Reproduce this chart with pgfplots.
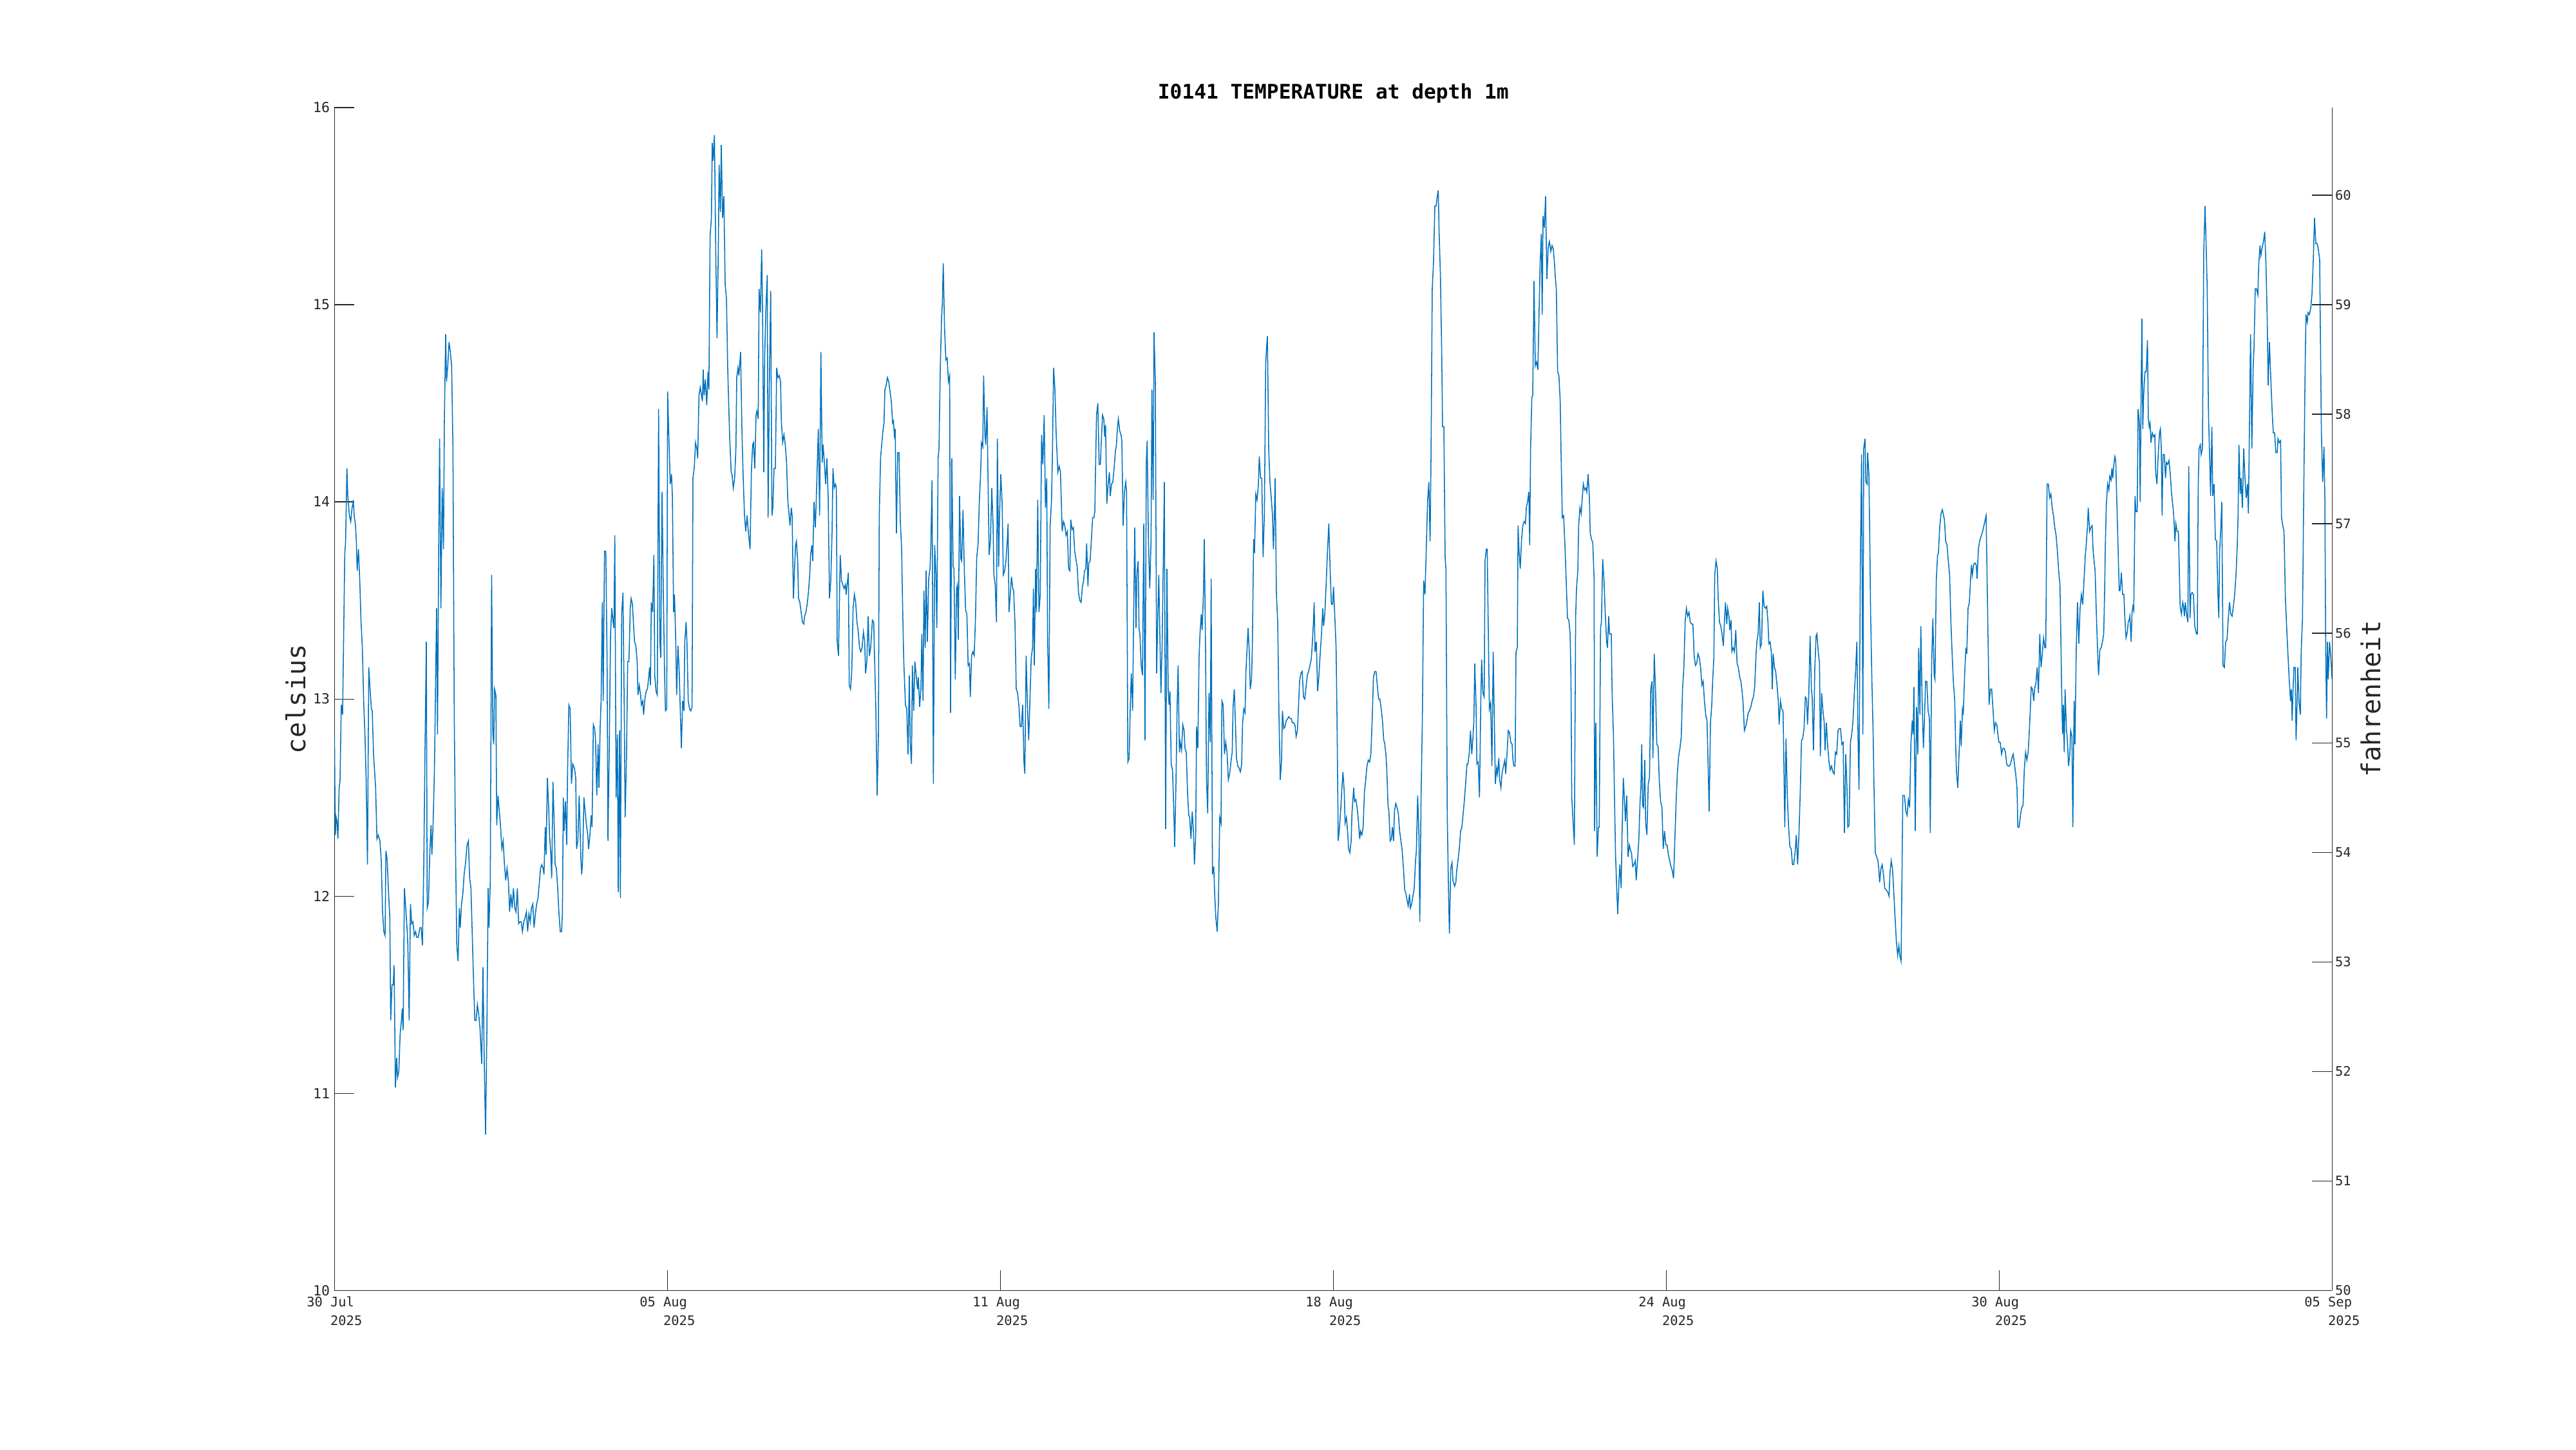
\documentclass[border=0pt]{standalone}
\usepackage{fontspec}
\setmainfont{DejaVu Sans Mono}
\usepackage{pgfplots}
\pgfplotsset{compat=1.18}
\definecolor{mblue}{rgb}{0,0.447,0.741}
\definecolor{axgray}{rgb}{0.15,0.15,0.15}
\begin{document}
\begin{tikzpicture}[x=1pt,y=1pt]
\path[use as bounding box] (0,0) rectangle (1000,562.5);
\begin{axis}[
  at={(129.825pt,61.675pt)}, anchor=south west,
  width=775.5pt, height=459.1pt, scale only axis,
  xmin=0, xmax=37, ymin=10, ymax=16,
  axis lines*=left,
  axis line style={axgray, line width=0.4pt},
  tick align=inside, major tick length=7.75pt,
  tick style={axgray, line width=0.3pt},
  xtick={0,6.16667,12.33333,18.5,24.66667,30.83333,37},
  xticklabels={{30 Jul\\\hphantom{30 }2025},{05 Aug\\\hphantom{05 }2025},{11 Aug\\\hphantom{11 }2025},{18 Aug\\\hphantom{18 }2025},{24 Aug\\\hphantom{24 }2025},{30 Aug\\\hphantom{30 }2025},{05 Sep\\\hphantom{05 }2025}},
  xticklabel style={align=left, anchor=north, inner sep=0pt, yshift=-2.3pt, text=axgray, font=\fontsize{5.1}{7.25}\selectfont},
  ytick={10,11,12,13,14,15,16},
  yticklabel style={anchor=east, inner sep=0pt, xshift=-1.6pt, text=axgray, font=\fontsize{5.4}{6.5}\selectfont},
  /pgf/number format/assume math mode=true,
  ylabel={celsius},
  every axis y label/.style={at={(rel axis cs:-0.0193,0.5)}, anchor=center, rotate=90, text=axgray, font=\fontsize{10.1}{12}\selectfont},
  title={I0141 TEMPERATURE at depth 1m},
  every axis title/.style={at={(rel axis cs:0.5,1)}, anchor=base, yshift=3.45pt, inner sep=0pt, font=\bfseries\fontsize{7.8}{9}\selectfont},
]
\addplot[mblue, line width=0.38pt] coordinates {
(0,12.82)(0.016,12.31)(0.032,12.40)(0.048,12.38)(0.064,12.29)(0.087,12.55)(0.103,12.58)(0.127,12.97)(0.151,12.92)(0.191,13.73)(0.207,13.80)(0.231,14.17)(0.247,14.03)(0.278,13.93)(0.302,13.90)(0.326,13.97)(0.350,14.00)(0.366,13.93)(0.390,13.88)(0.406,13.80)(0.421,13.65)(0.445,13.76)(0.469,13.60)(0.493,13.39)(0.517,13.26)(0.541,12.99)(0.565,12.82)(0.588,12.58)(0.612,12.16)(0.636,13.16)(0.660,13.05)(0.684,12.95)(0.700,12.94)(0.724,12.72)(0.763,12.55)(0.787,12.29)(0.811,12.31)(0.843,12.28)(0.867,12.18)(0.891,11.92)(0.915,11.82)(0.938,11.80)(0.954,12.23)(0.978,12.18)(1.002,12.02)(1.026,11.89)(1.042,11.37)(1.066,11.55)(1.089,11.55)(1.105,11.65)(1.129,11.03)(1.153,11.18)(1.169,11.08)(1.193,11.11)(1.217,11.30)(1.241,11.37)(1.256,11.43)(1.272,11.32)(1.296,12.04)(1.320,11.94)(1.344,11.84)(1.360,11.75)(1.384,11.37)(1.408,11.96)(1.431,11.86)(1.455,11.87)(1.479,11.80)(1.503,11.82)(1.527,11.79)(1.551,11.79)(1.583,11.84)(1.606,11.84)(1.630,11.75)(1.654,12.14)(1.678,12.75)(1.702,13.29)(1.718,11.94)(1.742,11.97)(1.765,12.21)(1.789,12.36)(1.805,12.21)(1.829,12.38)(1.853,12.65)(1.877,13.16)(1.893,13.46)(1.909,12.82)(1.932,13.80)(1.948,14.32)(1.972,13.46)(1.996,14.07)(2.020,13.76)(2.036,14.41)(2.060,14.85)(2.076,14.61)(2.099,14.69)(2.123,14.81)(2.147,14.76)(2.171,14.69)(2.195,14.27)(2.219,12.92)(2.243,12.24)(2.266,11.75)(2.290,11.67)(2.314,11.94)(2.330,11.84)(2.354,11.96)(2.378,12.01)(2.402,12.11)(2.425,12.16)(2.457,12.26)(2.481,12.28)(2.505,12.09)(2.529,12.04)(2.553,11.80)(2.577,11.57)(2.600,11.37)(2.624,11.37)(2.648,11.45)(2.672,11.40)(2.696,11.33)(2.728,11.15)(2.751,11.64)(2.775,11.16)(2.799,10.79)(2.823,11.30)(2.847,12.04)(2.863,11.84)(2.887,12.08)(2.911,13.63)(2.934,12.82)(2.950,12.77)(2.966,13.05)(2.990,13.02)(3.006,12.36)(3.030,12.51)(3.054,12.43)(3.078,12.35)(3.101,12.24)(3.125,12.28)(3.149,12.16)(3.173,12.08)(3.197,12.14)(3.221,12.08)(3.245,11.92)(3.268,12.01)(3.292,11.94)(3.316,12.04)(3.340,11.94)(3.364,11.92)(3.388,12.04)(3.412,11.86)(3.435,11.87)(3.459,11.87)(3.483,11.82)(3.507,11.87)(3.531,11.89)(3.555,11.92)(3.579,11.82)(3.602,11.91)(3.626,11.87)(3.650,11.94)(3.674,11.96)(3.698,11.84)(3.722,11.91)(3.746,11.96)(3.769,11.99)(3.793,12.06)(3.817,12.14)(3.841,12.16)(3.865,12.14)(3.881,12.11)(3.905,12.35)(3.920,12.21)(3.944,12.60)(3.968,12.45)(3.984,12.31)(4.008,12.21)(4.024,12.09)(4.048,12.58)(4.072,12.35)(4.088,12.16)(4.111,12.14)(4.135,12.04)(4.159,11.91)(4.183,11.82)(4.207,11.82)(4.223,11.92)(4.239,12.50)(4.254,12.33)(4.278,12.48)(4.302,12.26)(4.318,12.63)(4.342,12.97)(4.366,12.95)(4.390,12.57)(4.414,12.67)(4.445,12.65)(4.469,12.60)(4.485,12.24)(4.509,12.28)(4.533,12.51)
(4.565,12.19)(4.581,12.11)(4.597,12.19)(4.621,12.50)(4.644,12.43)(4.668,12.36)(4.692,12.31)(4.708,12.24)(4.732,12.31)(4.756,12.41)(4.772,12.35)(4.795,12.87)(4.819,12.85)(4.835,12.80)(4.859,12.51)(4.883,12.77)(4.899,12.55)(4.923,12.87)(4.939,12.99)(4.962,13.49)(4.978,12.99)(5.002,13.75)(5.026,13.75)(5.050,13.19)(5.066,12.28)(5.090,12.75)(5.114,13.33)(5.137,13.46)(5.161,13.39)(5.177,13.36)(5.193,13.83)(5.217,12.50)(5.241,12.82)(5.257,12.02)(5.281,12.84)(5.296,11.99)(5.320,13.43)(5.344,13.54)(5.368,12.95)(5.384,12.40)(5.408,12.68)(5.432,13.19)(5.455,13.19)(5.479,13.46)(5.495,13.51)(5.519,13.48)(5.543,13.36)(5.559,13.29)(5.583,13.27)(5.607,13.19)(5.622,13.02)(5.646,13.07)(5.670,13.02)(5.686,12.97)(5.710,12.99)(5.726,12.92)(5.750,13.00)(5.774,13.04)(5.797,13.05)(5.821,13.11)(5.837,13.16)(5.853,13.07)(5.869,13.49)(5.893,13.44)(5.917,13.73)(5.933,13.12)(5.956,13.04)(5.980,13.02)(6.004,14.47)(6.028,13.29)(6.044,13.21)(6.068,14.05)(6.092,13.53)(6.115,13.12)(6.131,12.94)(6.155,12.95)(6.171,14.56)(6.195,14.32)(6.219,14.09)(6.243,14.14)(6.259,14.03)(6.282,13.44)(6.298,13.53)(6.322,13.29)(6.338,13.02)(6.362,13.27)(6.386,13.14)(6.410,12.90)(6.426,12.75)(6.449,12.99)(6.473,12.94)(6.489,13.29)(6.513,13.39)(6.529,13.29)(6.553,12.99)(6.577,12.95)(6.601,12.94)(6.624,12.96)(6.640,14.12)(6.664,14.17)(6.688,14.30)(6.712,14.27)(6.728,14.22)(6.752,14.54)(6.775,14.58)(6.799,14.54)(6.815,14.51)(6.831,14.67)(6.847,14.54)(6.871,14.62)(6.895,14.49)(6.919,14.66)(6.935,14.57)(6.958,15.35)(6.982,15.44)(6.998,15.82)(7.014,15.73)(7.038,15.86)(7.062,15.28)(7.086,14.83)(7.110,15.28)(7.125,15.71)(7.149,15.47)(7.165,15.81)(7.189,15.44)(7.213,15.55)(7.237,15.10)(7.261,15.03)(7.284,14.68)(7.308,14.44)(7.324,14.30)(7.348,14.15)(7.364,14.14)(7.388,14.07)(7.412,14.12)(7.436,14.27)(7.451,14.63)(7.475,14.68)(7.491,14.64)(7.523,14.76)(7.547,14.37)(7.571,14.12)(7.595,13.93)(7.618,13.85)(7.642,13.93)(7.666,13.85)(7.698,13.76)(7.722,14.15)(7.746,14.29)(7.762,14.30)(7.785,14.17)(7.809,14.44)(7.825,14.46)(7.849,14.42)(7.865,15.08)(7.889,14.96)(7.913,15.28)(7.929,14.98)(7.952,14.15)(7.968,14.73)(7.992,14.98)(8.016,15.15)(8.032,13.92)(8.056,14.61)(8.080,15.07)(8.103,13.93)(8.119,13.97)(8.143,14.17)(8.167,14.17)(8.191,14.68)(8.215,14.63)(8.239,14.64)(8.263,14.61)(8.278,14.41)(8.302,14.30)(8.326,14.34)(8.350,14.29)(8.374,14.20)(8.398,14.00)(8.422,13.93)(8.437,13.88)(8.461,13.97)(8.477,13.93)(8.501,13.51)(8.517,13.63)(8.541,13.78)(8.557,13.80)(8.580,13.70)(8.596,13.51)(8.620,13.49)(8.644,13.44)(8.668,13.39)(8.692,13.38)(8.708,13.42)(8.732,13.44)(8.755,13.48)(8.779,13.54)(8.803,13.63)(8.819,13.73)(8.843,13.78)(8.859,13.70)(8.883,14.00)(8.907,13.87)(8.923,14.00)(8.946,14.22)(8.962,14.37)(8.986,13.93)(9.010,14.76)(9.034,14.20)(9.050,14.29)(9.074,14.20)(9.098,14.09)(9.121,14.22)(9.145,14.02)(9.169,13.51)(9.193,13.60)(9.217,13.85)(9.233,14.17)(9.257,14.07)(9.280,14.09)(9.296,14.07)
(9.312,13.29)(9.336,13.22)(9.368,13.73)(9.392,13.60)(9.415,13.58)(9.439,13.56)(9.463,13.58)(9.479,13.53)(9.495,13.58)(9.519,13.64)(9.535,13.07)(9.559,13.05)(9.582,13.14)(9.606,13.46)(9.630,13.53)(9.654,13.49)(9.678,13.39)(9.702,13.34)(9.726,13.26)(9.749,13.24)(9.773,13.26)(9.797,13.34)(9.821,13.29)(9.837,13.13)(9.861,13.19)(9.885,13.42)(9.908,13.22)(9.932,13.26)(9.964,13.40)(9.988,13.39)(10.012,13.12)(10.028,12.94)(10.052,12.51)(10.075,12.80)(10.091,13.93)(10.115,14.22)(10.139,14.30)(10.163,14.37)(10.179,14.40)(10.195,14.57)(10.219,14.59)(10.242,14.63)(10.266,14.61)(10.290,14.56)(10.314,14.51)(10.338,14.40)(10.354,14.41)(10.370,14.34)(10.386,14.37)(10.409,13.84)(10.433,14.25)(10.457,14.25)(10.481,13.90)(10.505,13.76)(10.529,13.39)(10.545,13.19)(10.576,12.97)(10.600,12.95)(10.624,12.72)(10.648,13.12)(10.664,12.78)(10.688,12.67)(10.704,13.17)(10.728,12.94)(10.751,13.19)(10.775,13.12)(10.799,13.05)(10.815,13.11)(10.839,12.96)(10.863,13.05)(10.879,13.33)(10.902,12.99)(10.918,13.55)(10.942,13.26)(10.958,13.65)(10.982,13.29)(11.006,13.61)(11.030,13.66)(11.045,13.76)(11.069,14.11)(11.093,12.57)(11.117,13.78)(11.141,13.63)(11.157,13.36)(11.181,14.22)(11.197,14.27)(11.220,14.66)(11.244,14.93)(11.260,15.01)(11.276,15.21)(11.300,14.88)(11.324,14.72)(11.348,14.73)(11.372,14.61)(11.395,14.64)(11.411,12.93)(11.435,14.22)(11.459,13.67)(11.475,13.66)(11.499,13.10)(11.523,13.56)(11.539,13.58)(11.555,13.30)(11.578,14.03)(11.602,13.71)(11.618,13.70)(11.642,13.96)(11.666,13.66)(11.690,13.45)(11.714,13.43)(11.737,13.17)(11.761,13.18)(11.777,13.01)(11.801,13.22)(11.825,13.24)(11.849,13.22)(11.873,13.41)(11.896,13.72)(11.920,13.78)(11.944,14.00)(11.968,14.14)(11.984,14.30)(12.008,14.28)(12.024,14.64)(12.048,14.34)(12.063,14.29)(12.087,14.48)(12.111,14.00)(12.127,13.73)(12.151,13.81)(12.175,14.07)(12.199,13.88)(12.214,13.63)(12.238,13.58)(12.262,13.39)(12.278,14.32)(12.302,13.67)(12.318,13.93)(12.342,14.14)(12.366,14.00)(12.389,13.63)(12.413,13.65)(12.437,13.70)(12.461,13.80)(12.477,13.89)(12.493,13.44)(12.517,13.53)(12.540,13.62)(12.564,13.56)(12.580,13.55)(12.604,13.39)(12.628,13.05)(12.652,13.03)(12.676,12.97)(12.700,12.86)(12.723,12.86)(12.747,12.97)(12.771,12.68)(12.787,12.62)(12.811,13.22)(12.835,12.97)(12.859,12.79)(12.882,13.00)(12.906,13.21)(12.930,13.26)(12.946,13.56)(12.962,13.17)(12.986,13.66)(13.002,13.44)(13.026,14.01)(13.049,13.44)(13.073,13.53)(13.097,14.34)(13.121,14.19)(13.145,14.44)(13.169,13.97)(13.193,14.12)(13.208,13.33)(13.232,12.95)(13.256,13.88)(13.280,14.00)(13.296,14.20)(13.320,14.68)(13.344,14.57)(13.368,14.34)(13.399,14.15)(13.423,14.18)(13.447,14.15)(13.479,13.85)(13.503,13.90)(13.527,13.88)(13.550,13.83)(13.574,13.85)(13.598,13.66)(13.622,13.65)(13.638,13.91)(13.662,13.86)(13.686,13.87)(13.710,13.75)(13.733,13.71)(13.757,13.67)(13.781,13.54)(13.805,13.50)(13.829,13.49)(13.853,13.57)(13.876,13.60)(13.892,13.65)(13.916,13.66)(13.932,13.79)(13.956,13.57)(13.972,13.69)(13.996,13.70)(14.020,13.81)(14.043,13.92)(14.067,13.92)
(14.083,13.95)(14.099,14.20)(14.115,14.44)(14.139,14.50)(14.163,14.19)(14.186,14.19)(14.202,14.30)(14.226,14.44)(14.250,14.42)(14.266,14.33)(14.282,14.39)(14.306,13.99)(14.330,14.09)(14.353,14.15)(14.369,14.03)(14.393,14.09)(14.417,14.10)(14.441,14.17)(14.465,14.26)(14.481,14.28)(14.504,14.38)(14.520,14.42)(14.544,14.36)(14.568,14.34)(14.584,14.31)(14.608,13.88)(14.632,14.05)(14.656,14.10)(14.671,14.05)(14.695,12.68)(14.719,12.70)(14.743,12.99)(14.759,13.13)(14.783,12.94)(14.799,13.34)(14.823,13.87)(14.846,13.36)(14.862,13.63)(14.886,13.70)(14.902,13.36)(14.918,13.33)(14.942,13.17)(14.966,13.12)(14.990,13.89)(15.013,12.79)(15.037,14.20)(15.053,14.31)(15.077,13.80)(15.101,13.56)(15.125,13.81)(15.141,14.57)(15.164,14.01)(15.180,14.86)(15.204,14.61)(15.228,13.13)(15.252,13.44)(15.268,13.63)(15.292,13.26)(15.308,13.03)(15.331,13.29)(15.355,13.76)(15.371,14.10)(15.395,12.34)(15.419,13.66)(15.443,13.04)(15.459,12.97)(15.475,13.04)(15.498,12.67)(15.522,12.64)(15.546,12.44)(15.562,12.25)(15.586,12.57)(15.610,12.99)(15.626,13.17)(15.650,12.73)(15.665,12.78)(15.689,12.74)(15.713,12.87)(15.737,12.84)(15.753,12.75)(15.777,12.73)(15.801,12.52)(15.824,12.41)(15.840,12.40)(15.864,12.29)(15.888,12.43)(15.912,12.32)(15.928,12.16)(15.952,12.31)(15.968,12.86)(15.991,12.75)(16.015,13.22)(16.031,13.33)(16.055,13.43)(16.071,13.35)(16.095,13.53)(16.111,13.81)(16.135,13.23)(16.151,12.60)(16.174,12.42)(16.198,13.03)(16.222,12.78)(16.238,13.61)(16.262,12.11)(16.286,12.15)(16.302,12.02)(16.325,11.89)(16.349,11.82)(16.373,11.97)(16.397,12.40)(16.421,12.37)(16.437,12.99)(16.461,12.97)(16.485,12.72)(16.508,12.78)(16.532,12.73)(16.556,12.59)(16.580,12.62)(16.604,12.68)(16.628,12.73)(16.644,12.96)(16.667,13.05)(16.691,12.85)(16.707,12.70)(16.731,12.66)(16.755,12.65)(16.779,12.63)(16.803,12.67)(16.819,12.87)(16.842,12.95)(16.866,12.93)(16.882,13.14)(16.906,13.27)(16.922,13.36)(16.946,13.23)(16.962,13.05)(16.986,13.10)(17.001,13.27)(17.025,13.81)(17.041,13.74)(17.065,14.04)(17.089,14.01)(17.113,14.09)(17.129,14.23)(17.153,14.12)(17.176,14.12)(17.200,13.72)(17.224,13.94)(17.248,14.70)(17.264,14.78)(17.280,14.84)(17.304,14.27)(17.327,14.10)(17.351,14.02)(17.375,13.93)(17.391,13.76)(17.407,13.90)(17.423,14.12)(17.447,13.53)(17.471,13.39)(17.494,12.92)(17.518,12.59)(17.542,12.69)(17.558,12.94)(17.582,12.85)(17.606,12.86)(17.630,12.89)(17.653,12.90)(17.677,12.91)(17.701,12.90)(17.725,12.90)(17.741,12.88)(17.765,12.88)(17.789,12.87)(17.812,12.81)(17.836,12.84)(17.860,12.99)(17.876,13.09)(17.900,13.13)(17.924,13.14)(17.948,13.01)(17.972,13.00)(17.995,13.06)(18.019,13.12)(18.043,13.14)(18.067,13.17)(18.091,13.20)(18.107,13.26)(18.131,13.38)(18.146,13.49)(18.162,13.24)(18.186,13.29)(18.210,13.04)(18.234,13.12)(18.258,13.23)(18.282,13.33)(18.305,13.46)(18.321,13.37)(18.345,13.44)(18.369,13.59)(18.393,13.75)(18.417,13.89)(18.441,13.66)(18.465,13.48)(18.488,13.48)(18.504,13.57)(18.528,13.42)(18.552,13.26)(18.568,12.92)(18.592,12.28)(18.616,12.35)(18.640,12.45)(18.656,12.53)(18.679,12.63)(18.703,12.53)(18.719,12.37)(18.743,12.40)(18.767,12.32)(18.783,12.24)(18.807,12.22)(18.831,12.28)(18.846,12.42)
(18.878,12.55)(18.894,12.48)(18.918,12.49)(18.941,12.45)(18.965,12.38)(18.989,12.29)(19.005,12.33)(19.029,12.31)(19.053,12.35)(19.077,12.53)(19.101,12.59)(19.124,12.66)(19.148,12.69)(19.172,12.68)(19.196,12.72)(19.220,12.89)(19.244,13.11)(19.268,13.14)(19.291,13.14)(19.315,13.07)(19.339,13.00)(19.363,13.00)(19.387,12.95)(19.411,12.89)(19.434,12.79)(19.450,12.78)(19.474,12.72)(19.490,12.65)(19.514,12.46)(19.530,12.43)(19.554,12.28)(19.578,12.29)(19.594,12.35)(19.617,12.28)(19.633,12.43)(19.657,12.47)(19.681,12.45)(19.705,12.42)(19.729,12.33)(19.753,12.28)(19.776,12.23)(19.800,12.14)(19.824,12.03)(19.848,12.01)(19.872,11.97)(19.888,11.95)(19.912,12.01)(19.928,11.94)(19.951,11.96)(19.975,12.00)(19.999,12.04)(20.023,12.18)(20.039,12.23)(20.063,12.51)(20.087,12.30)(20.102,11.87)(20.126,12.51)(20.150,12.90)(20.174,13.60)(20.198,13.53)(20.222,13.76)(20.246,14.00)(20.270,14.10)(20.293,13.80)(20.309,14.20)(20.333,15.08)(20.357,15.22)(20.381,15.50)(20.405,15.50)(20.421,15.54)(20.444,15.58)(20.460,15.37)(20.484,15.15)(20.508,14.76)(20.524,14.38)(20.548,14.38)(20.572,13.71)(20.587,13.66)(20.611,12.41)(20.635,12.01)(20.651,11.81)(20.675,12.14)(20.699,12.17)(20.715,12.08)(20.747,12.05)(20.770,12.07)(20.786,12.13)(20.810,12.18)(20.834,12.24)(20.858,12.33)(20.882,12.35)(20.906,12.42)(20.929,12.49)(20.953,12.58)(20.977,12.67)(20.993,12.67)(21.017,12.72)(21.041,12.84)(21.065,12.72)(21.088,12.81)(21.104,12.89)(21.120,13.18)(21.144,12.97)(21.160,12.67)(21.184,12.68)(21.208,12.50)(21.232,12.99)(21.248,13.20)(21.271,13.03)(21.295,13.01)(21.311,13.70)(21.335,13.76)(21.351,13.76)(21.367,13.43)(21.391,12.95)(21.415,12.98)(21.438,12.66)(21.462,13.24)(21.486,12.84)(21.502,12.57)(21.526,12.65)(21.542,12.62)(21.566,12.70)(21.582,12.59)(21.605,12.55)(21.629,12.63)(21.653,12.66)(21.677,12.69)(21.693,12.62)(21.717,12.72)(21.741,12.84)(21.764,12.83)(21.788,12.78)(21.812,12.77)(21.828,12.69)(21.844,12.66)(21.868,12.66)(21.884,13.24)(21.908,13.26)(21.923,13.88)(21.939,13.76)(21.963,13.66)(21.987,13.81)(22.011,13.88)(22.035,13.90)(22.059,13.89)(22.075,13.97)(22.098,14.00)(22.122,14.05)(22.138,13.78)(22.154,14.27)(22.178,14.53)(22.194,14.54)(22.218,15.12)(22.242,14.69)(22.265,14.71)(22.289,14.67)(22.313,14.98)(22.329,15.19)(22.353,15.36)(22.369,14.95)(22.385,15.45)(22.409,15.39)(22.432,15.55)(22.456,15.13)(22.480,15.29)(22.504,15.32)(22.528,15.27)(22.552,15.30)(22.576,15.28)(22.591,15.23)(22.615,15.13)(22.631,15.08)(22.655,14.66)(22.679,14.64)(22.703,14.51)(22.719,14.24)(22.742,13.92)(22.766,13.93)(22.790,13.78)(22.814,13.60)(22.838,13.41)(22.862,13.40)(22.886,13.33)(22.902,13.11)(22.917,12.50)(22.941,12.38)(22.965,12.26)(22.989,13.42)(23.005,13.56)(23.029,13.65)(23.045,13.88)(23.068,13.97)(23.092,13.94)(23.108,14.01)(23.132,14.09)(23.156,14.06)(23.180,14.07)(23.196,14.05)(23.220,14.14)(23.243,14.03)(23.259,13.84)(23.283,13.81)(23.307,13.79)(23.331,13.60)(23.339,12.33)(23.363,12.88)(23.387,12.20)(23.411,12.35)(23.426,12.35)(23.450,13.36)(23.466,13.39)(23.490,13.71)(23.514,13.60)(23.538,13.43)(23.562,13.29)(23.578,13.26)(23.601,13.42)(23.617,13.33)
(23.649,13.33)(23.665,13.02)(23.689,12.82)(23.705,12.55)(23.728,12.21)(23.752,12.02)(23.768,11.91)(23.792,12.08)(23.808,12.16)(23.832,12.04)(23.848,12.31)(23.872,12.60)(23.895,12.48)(23.911,12.38)(23.935,12.51)(23.959,12.20)(23.983,12.26)(24.007,12.23)(24.023,12.22)(24.046,12.15)(24.070,12.16)(24.094,12.18)(24.110,12.08)(24.134,12.18)(24.158,12.28)(24.182,12.48)(24.198,12.55)(24.213,12.77)(24.229,12.46)(24.245,12.45)(24.269,12.69)(24.285,12.37)(24.309,12.31)(24.333,12.57)(24.357,12.60)(24.380,13.05)(24.404,13.09)(24.420,12.70)(24.444,13.23)(24.468,13.05)(24.492,12.77)(24.516,12.76)(24.539,12.58)(24.563,12.48)(24.587,12.45)(24.611,12.24)(24.635,12.33)(24.659,12.26)(24.683,12.26)(24.706,12.21)(24.730,12.18)(24.754,12.15)(24.778,12.13)(24.802,12.09)(24.826,12.28)(24.850,12.48)(24.873,12.63)(24.897,12.71)(24.921,12.75)(24.945,12.81)(24.969,13.05)(24.993,13.16)(25.017,13.39)(25.040,13.46)(25.064,13.42)(25.088,13.44)(25.112,13.39)(25.136,13.38)(25.160,13.38)(25.184,13.22)(25.207,13.17)(25.231,13.18)(25.255,13.23)(25.279,13.21)(25.303,13.16)(25.327,13.07)(25.351,13.09)(25.374,12.99)(25.398,12.92)(25.422,12.89)(25.446,12.62)(25.462,12.43)(25.486,12.88)(25.510,12.97)(25.526,13.09)(25.549,13.21)(25.565,13.63)(25.589,13.70)(25.613,13.66)(25.629,13.51)(25.653,13.39)(25.677,13.37)(25.700,13.33)(25.724,13.27)(25.748,13.41)(25.764,13.49)(25.788,13.38)(25.804,13.46)(25.828,13.42)(25.844,13.35)(25.867,13.40)(25.883,13.24)(25.907,13.26)(25.931,13.24)(25.955,13.35)(25.979,13.18)(26.003,13.16)(26.027,13.11)(26.050,13.09)(26.074,13.03)(26.090,12.98)(26.114,12.84)(26.138,12.86)(26.162,12.89)(26.186,12.93)(26.209,12.94)(26.233,12.96)(26.257,12.99)(26.281,13.01)(26.305,13.06)(26.329,13.22)(26.345,13.29)(26.368,13.33)(26.392,13.49)(26.408,13.26)(26.432,13.28)(26.456,13.55)(26.480,13.47)(26.504,13.46)(26.528,13.47)(26.551,13.39)(26.567,13.28)(26.591,13.29)(26.615,13.23)(26.631,13.05)(26.647,13.23)(26.671,13.16)(26.694,13.14)(26.718,13.07)(26.742,12.99)(26.758,12.87)(26.782,12.99)(26.806,12.95)(26.830,12.94)(26.846,12.67)(26.862,12.35)(26.885,12.80)(26.909,12.51)(26.933,12.35)(26.957,12.25)(26.981,12.24)(27.005,12.16)(27.028,12.16)(27.052,12.22)(27.076,12.31)(27.100,12.16)(27.124,12.31)(27.148,12.52)(27.172,12.79)(27.195,12.80)(27.219,12.85)(27.243,13.01)(27.267,13.00)(27.283,12.87)(27.307,13.02)(27.331,13.32)(27.355,13.05)(27.370,13.01)(27.394,12.74)(27.418,13.15)(27.442,13.32)(27.458,13.33)(27.482,13.24)(27.506,13.18)(27.521,12.71)(27.545,13.03)(27.569,12.94)(27.593,12.88)(27.609,12.74)(27.633,12.88)(27.657,12.76)(27.681,12.68)(27.704,12.64)(27.728,12.66)(27.752,12.63)(27.776,12.62)(27.800,12.73)(27.824,12.72)(27.848,12.84)(27.871,12.85)(27.895,12.85)(27.919,12.77)(27.943,12.78)(27.967,12.32)(27.991,12.72)(28.014,12.55)(28.030,12.35)(28.054,12.36)(28.078,12.78)(28.102,12.82)(28.126,12.89)(28.150,13.03)(28.174,13.14)(28.197,13.29)(28.221,12.77)(28.237,12.54)(28.261,13.66)(28.285,14.24)(28.309,12.82)(28.324,14.27)(28.348,14.32)(28.364,14.10)(28.388,14.09)
(28.396,14.25)(28.420,14.14)(28.436,13.83)(28.452,13.43)(28.476,13.09)(28.499,12.82)(28.515,12.55)(28.539,12.22)(28.563,12.20)(28.587,12.18)(28.603,12.14)(28.619,12.07)(28.643,12.14)(28.666,12.16)(28.690,12.11)(28.714,12.04)(28.746,12.03)(28.770,12.02)(28.794,12.00)(28.809,12.11)(28.833,12.18)(28.857,12.14)(28.881,12.02)(28.905,11.89)(28.929,11.77)(28.953,11.70)(28.976,11.75)(28.992,11.70)(29.016,11.67)(29.032,12.08)(29.048,12.51)(29.080,12.51)(29.104,12.43)(29.128,12.41)(29.151,12.49)(29.175,12.45)(29.199,12.78)(29.223,12.89)(29.239,12.82)(29.255,13.06)(29.279,12.33)(29.303,12.96)(29.326,12.72)(29.342,13.26)(29.366,12.92)(29.382,13.37)(29.406,12.99)(29.430,12.75)(29.454,12.94)(29.470,13.09)(29.493,13.09)(29.517,12.94)(29.541,12.90)(29.557,12.32)(29.581,13.16)(29.605,13.41)(29.629,13.12)(29.644,13.10)(29.668,13.60)(29.692,13.73)(29.708,13.74)(29.732,13.87)(29.756,13.94)(29.780,13.96)(29.796,13.94)(29.819,13.91)(29.843,13.80)(29.867,13.78)(29.891,13.70)(29.915,13.63)(29.939,13.39)(29.963,13.22)(29.986,13.08)(30.010,12.99)(30.026,12.78)(30.042,12.63)(30.066,12.55)(30.090,12.72)(30.114,12.89)(30.130,12.76)(30.153,12.95)(30.169,12.93)(30.193,13.12)(30.217,13.26)(30.233,13.23)(30.257,13.46)(30.281,13.49)(30.304,13.61)(30.320,13.68)(30.336,13.63)(30.360,13.68)(30.384,13.69)(30.408,13.68)(30.424,13.61)(30.448,13.76)(30.471,13.80)(30.503,13.83)(30.527,13.85)(30.551,13.88)(30.567,13.90)(30.591,13.93)(30.607,13.66)(30.630,13.26)(30.646,12.97)(30.670,13.05)(30.694,13.05)(30.718,12.95)(30.742,12.84)(30.766,12.88)(30.790,12.87)(30.805,12.83)(30.829,12.78)(30.853,12.78)(30.877,12.72)(30.901,12.75)(30.925,12.75)(30.949,12.73)(30.972,12.67)(30.996,12.66)(31.020,12.66)(31.044,12.67)(31.068,12.70)(31.092,12.72)(31.116,12.67)(31.139,12.62)(31.163,12.55)(31.179,12.35)(31.203,12.35)(31.227,12.41)(31.251,12.45)(31.275,12.46)(31.298,12.64)(31.322,12.73)(31.346,12.69)(31.370,12.73)(31.394,12.85)(31.410,12.95)(31.426,13.06)(31.450,13.05)(31.473,12.99)(31.489,13.05)(31.513,13.08)(31.537,13.16)(31.561,13.03)(31.585,13.33)(31.609,13.16)(31.632,13.23)(31.656,13.31)(31.680,13.26)(31.696,13.26)(31.720,14.09)(31.744,14.09)(31.768,14.02)(31.792,14.04)(31.815,13.97)(31.839,13.93)(31.863,13.87)(31.887,13.83)(31.911,13.75)(31.935,13.65)(31.959,13.58)(31.974,13.33)(31.990,13.05)(32.006,12.82)(32.022,12.97)(32.038,12.73)(32.054,13.05)(32.078,12.85)(32.094,12.80)(32.118,12.66)(32.141,12.72)(32.157,12.84)(32.181,12.81)(32.197,12.35)(32.221,12.99)(32.237,12.77)(32.261,13.26)(32.284,13.49)(32.308,13.28)(32.332,13.46)(32.356,13.53)(32.380,13.48)(32.404,13.60)(32.428,13.73)(32.443,13.77)(32.467,13.87)(32.483,13.97)(32.507,13.85)(32.531,13.87)(32.555,13.88)(32.571,13.76)(32.595,13.69)(32.610,13.65)(32.634,13.42)(32.658,13.23)(32.674,13.12)(32.698,13.25)(32.722,13.26)(32.746,13.29)(32.769,13.33)(32.785,13.53)(32.801,13.80)(32.817,13.98)(32.841,14.09)(32.865,14.06)(32.881,14.13)(32.905,14.11)(32.921,14.17)(32.937,14.12)(32.952,14.18)(32.976,14.23)(32.992,14.21)(33.008,14.04)(33.032,13.80)(33.056,13.55)(33.072,13.55)(33.096,13.64)(33.120,13.53)(33.143,13.53)(33.159,13.42)
(33.183,13.31)(33.207,13.34)(33.223,13.39)(33.239,13.40)(33.254,13.42)(33.278,13.29)(33.294,13.44)(33.310,13.47)(33.326,13.45)(33.350,14.03)(33.366,13.95)(33.390,13.95)(33.406,14.47)(33.429,14.41)(33.445,14.00)(33.461,14.54)(33.477,14.93)(33.493,14.37)(33.509,14.54)(33.533,14.66)(33.557,14.66)(33.580,14.82)(33.596,14.42)(33.612,14.38)(33.628,14.40)(33.644,14.30)(33.668,14.35)(33.692,14.33)(33.716,14.34)(33.732,14.15)(33.755,14.09)(33.779,14.24)(33.803,14.35)(33.819,14.37)(33.835,14.28)(33.851,13.93)(33.867,14.24)(33.891,14.24)(33.914,14.12)(33.930,14.20)(33.954,14.19)(33.978,14.21)(34.002,14.14)(34.026,14.04)(34.050,13.98)(34.066,13.93)(34.089,13.80)(34.105,13.89)(34.129,13.85)(34.153,13.85)(34.169,13.66)(34.185,13.47)(34.209,13.43)(34.233,13.49)(34.248,13.47)(34.264,13.42)(34.280,13.49)(34.304,13.43)(34.328,13.39)(34.344,14.18)(34.368,13.41)(34.384,13.53)(34.407,13.54)(34.431,13.53)(34.455,13.37)(34.487,13.33)(34.503,13.33)(34.519,14.07)(34.535,14.27)(34.559,14.29)(34.574,14.24)(34.598,14.27)(34.622,15.27)(34.646,15.50)(34.662,15.35)(34.686,15.08)(34.710,14.44)(34.734,14.20)(34.749,14.03)(34.773,14.38)(34.789,14.03)(34.813,14.09)(34.837,13.81)(34.861,13.80)(34.885,13.53)(34.901,13.41)(34.916,13.75)(34.940,13.88)(34.956,14.00)(34.980,13.17)(35.004,13.16)(35.028,13.29)(35.052,13.30)(35.075,13.40)(35.099,13.49)(35.123,13.43)(35.147,13.42)(35.171,13.47)(35.195,13.53)(35.219,13.63)(35.242,13.77)(35.258,13.93)(35.274,14.29)(35.298,14.04)(35.314,14.12)(35.338,13.97)(35.362,14.27)(35.386,14.12)(35.409,14.02)(35.433,14.09)(35.449,13.94)(35.465,14.30)(35.489,14.85)(35.513,14.27)(35.537,14.68)(35.553,14.78)(35.576,15.08)(35.600,15.08)(35.624,15.05)(35.640,15.20)(35.664,15.30)(35.680,15.25)(35.704,15.29)(35.728,15.32)(35.751,15.37)(35.775,15.20)(35.799,14.91)(35.815,14.59)(35.839,14.81)(35.863,14.63)(35.887,14.47)(35.910,14.35)(35.934,14.35)(35.958,14.25)(35.982,14.25)(35.998,14.32)(36.022,14.30)(36.046,14.31)(36.062,13.92)(36.085,13.88)(36.109,13.85)(36.133,13.52)(36.157,13.37)(36.181,13.23)(36.205,13.10)(36.229,12.99)(36.244,13.05)(36.260,12.89)(36.276,13.05)(36.292,13.16)(36.316,13.16)(36.332,12.79)(36.348,12.95)(36.364,13.16)(36.388,12.98)(36.411,12.92)(36.427,13.24)(36.451,13.41)(36.475,14.07)(36.499,14.66)(36.515,14.95)(36.539,14.91)(36.555,14.96)(36.578,14.95)(36.602,14.98)(36.626,15.05)(36.650,15.22)(36.674,15.44)(36.698,15.31)(36.722,15.31)(36.745,15.28)(36.769,15.23)(36.785,14.78)(36.801,14.35)(36.825,14.10)(36.849,14.28)(36.865,14.02)(36.881,13.26)(36.897,12.90)(36.912,13.29)(36.928,13.10)(36.952,13.29)(36.976,13.21)(37.000,13.10)
};
\end{axis}
\begin{axis}[
  at={(129.825pt,61.675pt)}, anchor=south west,
  width=775.5pt, height=459.1pt, scale only axis,
  xmin=0, xmax=37, ymin=50, ymax=60.8,
  axis x line=none, axis y line*=right,
  axis line style={axgray, line width=0.4pt},
  tick align=inside, major tick length=7.75pt,
  tick style={axgray, line width=0.3pt},
  ytick={50,51,52,53,54,55,56,57,58,59,60},
  yticklabel style={anchor=west, inner sep=0pt, xshift=1pt, text=axgray, font=\fontsize{5.1}{6.5}\selectfont},
  /pgf/number format/assume math mode=true,
  ylabel={fahrenheit},
  every axis y label/.style={at={(rel axis cs:1.0193,0.5)}, anchor=center, rotate=90, text=axgray, font=\fontsize{10.1}{12}\selectfont},
]
\addplot[draw=none, forget plot] coordinates {(0,50)(37,50)};
\end{axis}
\end{tikzpicture}
\end{document}
